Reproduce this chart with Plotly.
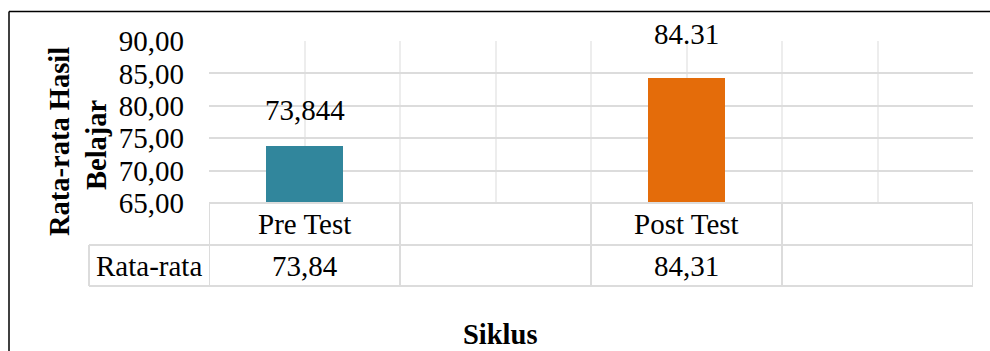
import plotly.graph_objects as go

# Chart data
categories = ["Pre Test", "", "Post Test", ""]
bar_categories = ["Pre Test", "Post Test"]
bar_values = [73.844, 84.31]
bar_labels = ["73,844", "84.31"]
table_header = "Rata-rata"
y_ticks = [65, 70, 75, 80, 85, 90]

W, H = 990, 351
FONT = "Liberation Serif, Times New Roman, serif"
FS = 29
FS_BOLD = 28.5
GRID = "#dcdcdc"
VGRID = "#ededed"
TEAL = "#31869c"
ORANGE = "#e46c0a"


def px(x):
    return x / W


def py(y):
    return 1 - y / H


# each category spans two grid columns; centres sit at odd positions
cat_pos = {c: 2 * i + 1 for i, c in enumerate(categories)}
bar_x = [cat_pos[c] for c in bar_categories]

fig = go.Figure()
fig.add_trace(go.Bar(
    x=bar_x, y=bar_values, width=0.81,
    marker=dict(color=[TEAL, ORANGE], line=dict(width=0)),
    hoverinfo="skip",
))

shapes = []
annotations = []
txt = dict(family=FONT, size=FS, color="#000")
txt_b = dict(family=FONT, size=FS_BOLD, color="#000")

# value labels above bars
label_shift = [18, 26]
for xv, yv, lab, sh in zip(bar_x, bar_values, bar_labels, label_shift):
    annotations.append(dict(
        x=xv, y=yv, xref="x", yref="y", text=lab, showarrow=False,
        yanchor="bottom", yshift=sh, font=txt,
    ))

# data table under the plot
row1_top, row1_bot, row2_bot = 203, 245, 286
tcol = dict(color=GRID, width=2)
for xv in range(0, 2 * len(categories) + 1, 2):
    shapes.append(dict(type="line", xref="x", yref="paper", x0=xv, x1=xv,
                       y0=py(row1_top), y1=py(row2_bot), line=tcol))
shapes.append(dict(type="line", xref="x", yref="paper", x0=0, x1=8,
                   y0=py(row1_top), y1=py(row1_top), line=tcol))
for yy in (row1_bot, row2_bot):
    shapes.append(dict(type="line", xref="paper", yref="paper", x0=px(89), x1=px(973),
                       y0=py(yy), y1=py(yy), line=tcol))
shapes.append(dict(type="line", xref="paper", yref="paper", x0=px(89), x1=px(89),
                   y0=py(row1_bot), y1=py(row2_bot), line=tcol))

value_by_cat = dict(zip(bar_categories, bar_values))
for c in categories:
    if not c:
        continue
    annotations.append(dict(
        x=cat_pos[c], y=py((row1_top + row1_bot) / 2), xref="x", yref="paper",
        text=c, showarrow=False, yanchor="middle", font=txt,
    ))
    annotations.append(dict(
        x=cat_pos[c], y=py((row1_bot + row2_bot) / 2), xref="x", yref="paper",
        text=f"{value_by_cat[c]:.2f}".replace(".", ","), showarrow=False,
        yanchor="middle", font=txt,
    ))
annotations.append(dict(
    x=px(149), y=py((row1_bot + row2_bot) / 2), xref="paper", yref="paper",
    text=table_header, showarrow=False, yanchor="middle", xanchor="center", font=txt,
))

# axis titles
annotations.append(dict(
    x=px(59), y=py(142), xref="paper", yref="paper", text="<b>Rata-rata Hasil</b>",
    textangle=-90, showarrow=False, xanchor="center", yanchor="middle", font=txt_b,
))
annotations.append(dict(
    x=px(97), y=py(145), xref="paper", yref="paper", text="<b>Belajar</b>",
    textangle=-90, showarrow=False, xanchor="center", yanchor="middle", font=txt_b,
))
annotations.append(dict(
    x=px(500), y=py(334), xref="paper", yref="paper", text="<b>Siklus</b>",
    showarrow=False, xanchor="center", yanchor="middle", font=txt_b,
))

# outer chart frame (top and left edges)
frame = dict(color="#000", width=1.5)
shapes.append(dict(type="line", xref="paper", yref="paper", x0=px(9), x1=1,
                   y0=py(11.5), y1=py(11.5), line=frame))
shapes.append(dict(type="line", xref="paper", yref="paper", x0=px(9), x1=px(9),
                   y0=py(11.5), y1=0, line=frame))

fig.update_layout(
    width=W, height=H,
    margin=dict(l=0, r=0, t=0, b=0, pad=0, autoexpand=False),
    paper_bgcolor="white", plot_bgcolor="white",
    separators=", ",
    showlegend=False,
    bargap=0,
    xaxis=dict(
        domain=[px(209), px(973)], range=[0, 8],
        tickvals=list(range(0, 9)), showticklabels=False, ticks="",
        showgrid=True, gridcolor=VGRID, gridwidth=2, automargin=False,
        zeroline=False, showline=False, fixedrange=True,
    ),
    yaxis=dict(
        domain=[py(203), py(41)], range=[65, 90],
        tickvals=y_ticks, tickformat=".2f", ticks="",
        ticklabelstandoff=24, automargin=False,
        tickfont=txt,
        showgrid=True, gridcolor=GRID, gridwidth=2,
        zeroline=False, showline=False, fixedrange=True,
    ),
    shapes=shapes,
    annotations=annotations,
)

fig.write_html("out.html")
